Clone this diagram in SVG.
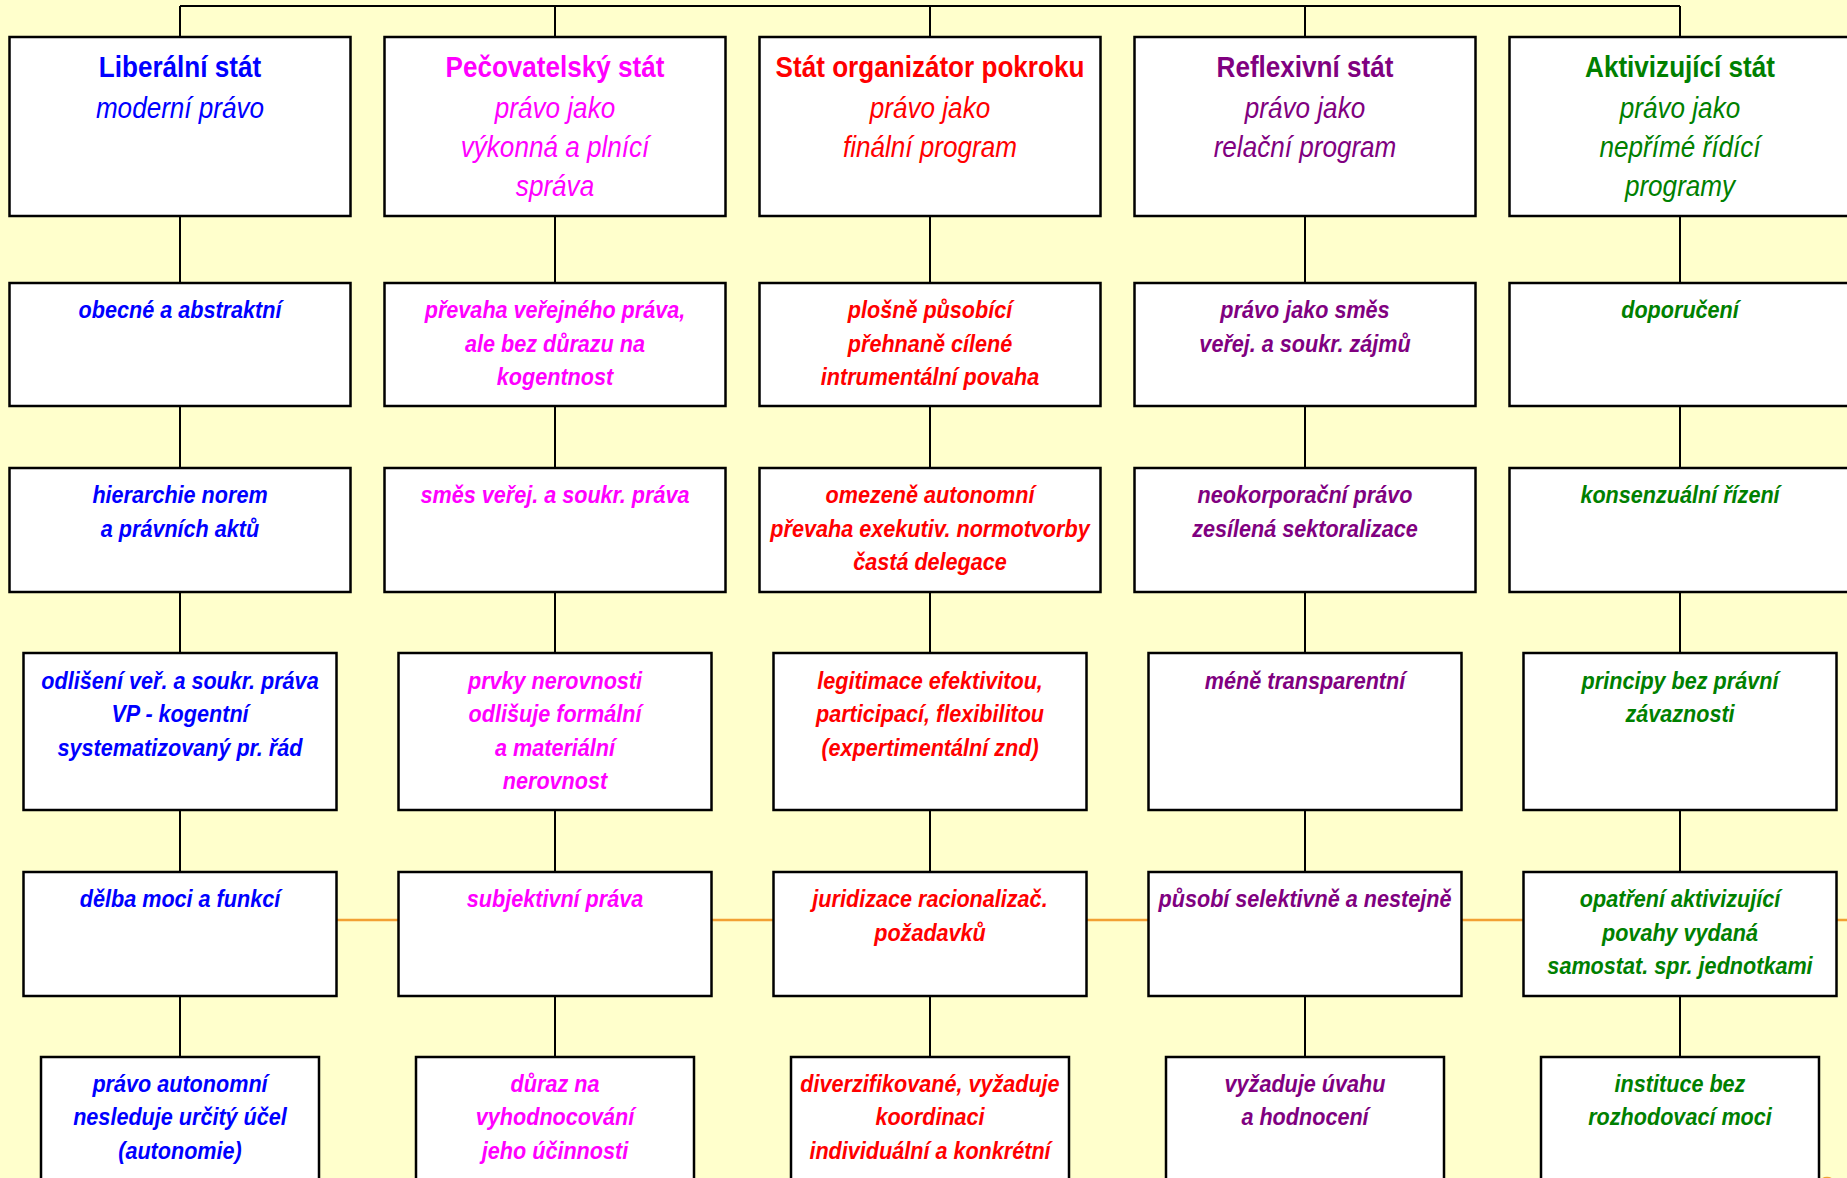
<svg xmlns="http://www.w3.org/2000/svg" width="1847" height="1178" viewBox="0 0 1847 1178">
<style>
.bg{fill:#FFFFCC}
.b{fill:#FFFFFF;stroke:#000000;stroke-width:2.5}
.ln{fill:none;stroke:#000000;stroke-width:2}
.or{fill:none;stroke:#F2A033;stroke-width:2.5}
text{font-family:"Liberation Sans",Arial,sans-serif;text-anchor:middle}
.h{font-size:29px;font-weight:bold;font-style:normal}
.s{font-size:29px;font-weight:normal;font-style:italic}
.t{font-size:24px;font-weight:bold;font-style:italic}
.c1{fill:#0000FF}
.c2{fill:#FF00FF}
.c3{fill:#FF0000}
.c4{fill:#800080}
.c5{fill:#008000}
</style>
<rect class="bg" x="0" y="0" width="1847" height="1178"/>
<g id="connectors">
<path class="or" d="M337 920 H1847"/>
<path class="ln" d="M180 6 H1680 M180 6 V37 M555 6 V37 M930 6 V37 M1305 6 V37 M1680 6 V37"/>
<path class="ln" d="M180 216 V283 M180 406 V468 M180 592 V653 M180 810 V872 M180 996 V1057"/>
<path class="ln" d="M555 216 V283 M555 406 V468 M555 592 V653 M555 810 V872 M555 996 V1057"/>
<path class="ln" d="M930 216 V283 M930 406 V468 M930 592 V653 M930 810 V872 M930 996 V1057"/>
<path class="ln" d="M1305 216 V283 M1305 406 V468 M1305 592 V653 M1305 810 V872 M1305 996 V1057"/>
<path class="ln" d="M1680 216 V283 M1680 406 V468 M1680 592 V653 M1680 810 V872 M1680 996 V1057"/>
<circle class="or" cx="1827" cy="1186" r="8"/>
</g>

<!-- Column 1 -->
<g id="c1r1"><rect class="b" x="9.5" y="37" width="341" height="179"/>
<text class="c1" transform="matrix(0.9 0 0 1 180 0)"><tspan class="h" x="0" y="77">Liberální stát</tspan><tspan class="s" x="0" y="118">moderní právo</tspan></text></g>
<g id="c1r2"><rect class="b" x="9.5" y="283" width="341" height="123"/>
<text class="t c1" transform="matrix(0.9 0 0 1 180 0)"><tspan x="0" y="318.5">obecné a abstraktní</tspan></text></g>
<g id="c1r3"><rect class="b" x="9.5" y="468" width="341" height="124"/>
<text class="t c1" transform="matrix(0.9 0 0 1 180 0)"><tspan x="0" y="503.5">hierarchie norem</tspan><tspan x="0" y="537">a právních aktů</tspan></text></g>
<g id="c1r4"><rect class="b" x="23.5" y="653" width="313" height="157"/>
<text class="t c1" transform="matrix(0.9 0 0 1 180 0)"><tspan x="0" y="689">odlišení veř. a soukr. práva</tspan><tspan x="0" y="722.5">VP - kogentní</tspan><tspan x="0" y="756">systematizovaný pr. řád</tspan></text></g>
<g id="c1r5"><rect class="b" x="23.5" y="872" width="313" height="124"/>
<text class="t c1" transform="matrix(0.9 0 0 1 180 0)"><tspan x="0" y="907.5">dělba moci a funkcí</tspan></text></g>
<g id="c1r6"><rect class="b" x="41" y="1057" width="278" height="140"/>
<text class="t c1" transform="matrix(0.9 0 0 1 180 0)"><tspan x="0" y="1092">právo autonomní</tspan><tspan x="0" y="1125.5">nesleduje určitý účel</tspan><tspan x="0" y="1159">(autonomie)</tspan></text></g>

<!-- Column 2 -->
<g id="c2r1"><rect class="b" x="384.5" y="37" width="341" height="179"/>
<text class="c2" transform="matrix(0.9 0 0 1 555 0)"><tspan class="h" x="0" y="77">Pečovatelský stát</tspan><tspan class="s" x="0" y="118">právo jako</tspan><tspan class="s" x="0" y="157.5">výkonná a plnící</tspan><tspan class="s" x="0" y="196">správa</tspan></text></g>
<g id="c2r2"><rect class="b" x="384.5" y="283" width="341" height="123"/>
<text class="t c2" transform="matrix(0.9 0 0 1 555 0)"><tspan x="0" y="318.5">převaha veřejného práva,</tspan><tspan x="0" y="352">ale bez důrazu na</tspan><tspan x="0" y="385.5">kogentnost</tspan></text></g>
<g id="c2r3"><rect class="b" x="384.5" y="468" width="341" height="124"/>
<text class="t c2" transform="matrix(0.9 0 0 1 555 0)"><tspan x="0" y="503.5">směs veřej. a soukr. práva</tspan></text></g>
<g id="c2r4"><rect class="b" x="398.5" y="653" width="313" height="157"/>
<text class="t c2" transform="matrix(0.9 0 0 1 555 0)"><tspan x="0" y="689">prvky nerovnosti</tspan><tspan x="0" y="722.5">odlišuje formální</tspan><tspan x="0" y="756">a materiální</tspan><tspan x="0" y="789.5">nerovnost</tspan></text></g>
<g id="c2r5"><rect class="b" x="398.5" y="872" width="313" height="124"/>
<text class="t c2" transform="matrix(0.9 0 0 1 555 0)"><tspan x="0" y="907.5">subjektivní práva</tspan></text></g>
<g id="c2r6"><rect class="b" x="416" y="1057" width="278" height="140"/>
<text class="t c2" transform="matrix(0.9 0 0 1 555 0)"><tspan x="0" y="1092">důraz na</tspan><tspan x="0" y="1125.5">vyhodnocování</tspan><tspan x="0" y="1159">jeho účinnosti</tspan></text></g>

<!-- Column 3 -->
<g id="c3r1"><rect class="b" x="759.5" y="37" width="341" height="179"/>
<text class="c3" transform="matrix(0.9 0 0 1 930 0)"><tspan class="h" x="0" y="77">Stát organizátor pokroku</tspan><tspan class="s" x="0" y="118">právo jako</tspan><tspan class="s" x="0" y="157.5">finální program</tspan></text></g>
<g id="c3r2"><rect class="b" x="759.5" y="283" width="341" height="123"/>
<text class="t c3" transform="matrix(0.9 0 0 1 930 0)"><tspan x="0" y="318.5">plošně působící</tspan><tspan x="0" y="352">přehnaně cílené</tspan><tspan x="0" y="385.5">intrumentální povaha</tspan></text></g>
<g id="c3r3"><rect class="b" x="759.5" y="468" width="341" height="124"/>
<text class="t c3" transform="matrix(0.9 0 0 1 930 0)"><tspan x="0" y="503.5">omezeně autonomní</tspan><tspan x="0" y="537">převaha exekutiv. normotvorby</tspan><tspan x="0" y="570.5">častá delegace</tspan></text></g>
<g id="c3r4"><rect class="b" x="773.5" y="653" width="313" height="157"/>
<text class="t c3" transform="matrix(0.9 0 0 1 930 0)"><tspan x="0" y="689">legitimace efektivitou,</tspan><tspan x="0" y="722.5">participací, flexibilitou</tspan><tspan x="0" y="756">(expertimentální znd)</tspan></text></g>
<g id="c3r5"><rect class="b" x="773.5" y="872" width="313" height="124"/>
<text class="t c3" transform="matrix(0.9 0 0 1 930 0)"><tspan x="0" y="907.5">juridizace racionalizač.</tspan><tspan x="0" y="941">požadavků</tspan></text></g>
<g id="c3r6"><rect class="b" x="791" y="1057" width="278" height="140"/>
<text class="t c3" transform="matrix(0.9 0 0 1 930 0)"><tspan x="0" y="1092">diverzifikované, vyžaduje</tspan><tspan x="0" y="1125.5">koordinaci</tspan><tspan x="0" y="1159">individuální a konkrétní</tspan></text></g>

<!-- Column 4 -->
<g id="c4r1"><rect class="b" x="1134.5" y="37" width="341" height="179"/>
<text class="c4" transform="matrix(0.9 0 0 1 1305 0)"><tspan class="h" x="0" y="77">Reflexivní stát</tspan><tspan class="s" x="0" y="118">právo jako</tspan><tspan class="s" x="0" y="157.5">relační program</tspan></text></g>
<g id="c4r2"><rect class="b" x="1134.5" y="283" width="341" height="123"/>
<text class="t c4" transform="matrix(0.9 0 0 1 1305 0)"><tspan x="0" y="318.5">právo jako směs</tspan><tspan x="0" y="352">veřej. a soukr. zájmů</tspan></text></g>
<g id="c4r3"><rect class="b" x="1134.5" y="468" width="341" height="124"/>
<text class="t c4" transform="matrix(0.9 0 0 1 1305 0)"><tspan x="0" y="503.5">neokorporační právo</tspan><tspan x="0" y="537">zesílená sektoralizace</tspan></text></g>
<g id="c4r4"><rect class="b" x="1148.5" y="653" width="313" height="157"/>
<text class="t c4" transform="matrix(0.9 0 0 1 1305 0)"><tspan x="0" y="689">méně transparentní</tspan></text></g>
<g id="c4r5"><rect class="b" x="1148.5" y="872" width="313" height="124"/>
<text class="t c4" transform="matrix(0.9 0 0 1 1305 0)"><tspan x="0" y="907.5">působí selektivně a nestejně</tspan></text></g>
<g id="c4r6"><rect class="b" x="1166" y="1057" width="278" height="140"/>
<text class="t c4" transform="matrix(0.9 0 0 1 1305 0)"><tspan x="0" y="1092">vyžaduje úvahu</tspan><tspan x="0" y="1125.5">a hodnocení</tspan></text></g>

<!-- Column 5 -->
<g id="c5r1"><rect class="b" x="1509.5" y="37" width="341" height="179"/>
<text class="c5" transform="matrix(0.9 0 0 1 1680 0)"><tspan class="h" x="0" y="77">Aktivizující stát</tspan><tspan class="s" x="0" y="118">právo jako</tspan><tspan class="s" x="0" y="157.5">nepřímé řídící</tspan><tspan class="s" x="0" y="196">programy</tspan></text></g>
<g id="c5r2"><rect class="b" x="1509.5" y="283" width="341" height="123"/>
<text class="t c5" transform="matrix(0.9 0 0 1 1680 0)"><tspan x="0" y="318.5">doporučení</tspan></text></g>
<g id="c5r3"><rect class="b" x="1509.5" y="468" width="341" height="124"/>
<text class="t c5" transform="matrix(0.9 0 0 1 1680 0)"><tspan x="0" y="503.5">konsenzuální řízení</tspan></text></g>
<g id="c5r4"><rect class="b" x="1523.5" y="653" width="313" height="157"/>
<text class="t c5" transform="matrix(0.9 0 0 1 1680 0)"><tspan x="0" y="689">principy bez právní</tspan><tspan x="0" y="722.5">závaznosti</tspan></text></g>
<g id="c5r5"><rect class="b" x="1523.5" y="872" width="313" height="124"/>
<text class="t c5" transform="matrix(0.9 0 0 1 1680 0)"><tspan x="0" y="907.5">opatření aktivizující</tspan><tspan x="0" y="941">povahy vydaná</tspan><tspan x="0" y="974.5">samostat. spr. jednotkami</tspan></text></g>
<g id="c5r6"><rect class="b" x="1541" y="1057" width="278" height="140"/>
<text class="t c5" transform="matrix(0.9 0 0 1 1680 0)"><tspan x="0" y="1092">instituce bez</tspan><tspan x="0" y="1125.5">rozhodovací moci</tspan></text></g>
</svg>
